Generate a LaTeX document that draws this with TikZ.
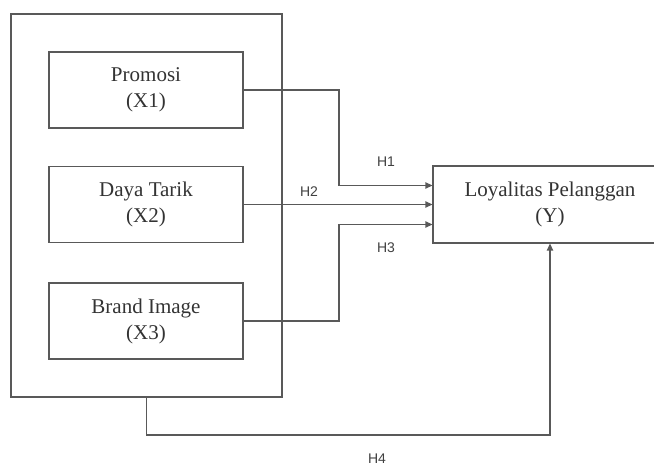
\documentclass[tikz,border=0pt]{standalone}
\usepackage{fontspec}
\setmainfont{Liberation Serif}
\setsansfont{Liberation Sans}
\usetikzlibrary{calc,arrows.meta,positioning}
\tikzset{
    every node/.style={font=\fontsize{10.5}{13}\selectfont,text=black!80},
    var node/.style={draw=black!65,line width=0.6pt,align=center,minimum width=97pt,minimum height=38pt},
    hyp/.style={font=\sffamily\fontsize{7}{8}\selectfont,text=black!75}
}

\begin{document}
\begin{tikzpicture}[x=0.5pt,y=-0.5pt,>={Triangle[length=3.5pt,width=3.2pt]},line width=0.6pt,draw=black!65]
    \useasboundingbox (0,0) rectangle (654,464);
    \clip (0,0) rectangle (654,464);

    \node[draw,minimum width=135.5pt,minimum height=191.5pt] (outer) at (146.5,205.5) {};
    \node[var node] (x1) at (146,90) {Promosi\\(X1)};
    \node[var node] (x2) at (146,204.5) {Daya Tarik\\(X2)};
    \node[var node] (x3) at (146,321) {Brand Image\\(X3)};
    \node[var node,minimum width=117pt,minimum height=38.5pt] (y) at (550,204.5) {Loyalitas Pelanggan\\(Y)};

    \coordinate (b1) at (339,90);
    \coordinate (b3) at (339,321);
    \coordinate (b4) at (146.5,435);

    \draw[->] (x1.east) -- (b1) |- ($(y.west)+(0,-19)$);
    \draw[->] (x2.east) -- (y.west);
    \draw[->] (x3.east) -- (b3) |- ($(y.west)+(0,20)$);
    \draw[->] (outer.south) -- (b4) -| (y.south);

    \node[hyp] (h1) at (386,162) {H1};
    \node[hyp] (h2) at (309,192) {H2};
    \node[hyp] (h3) at (386,248) {H3};
    \node[hyp] (h4) at (377,459) {H4};
  \end{tikzpicture}
\end{document}
